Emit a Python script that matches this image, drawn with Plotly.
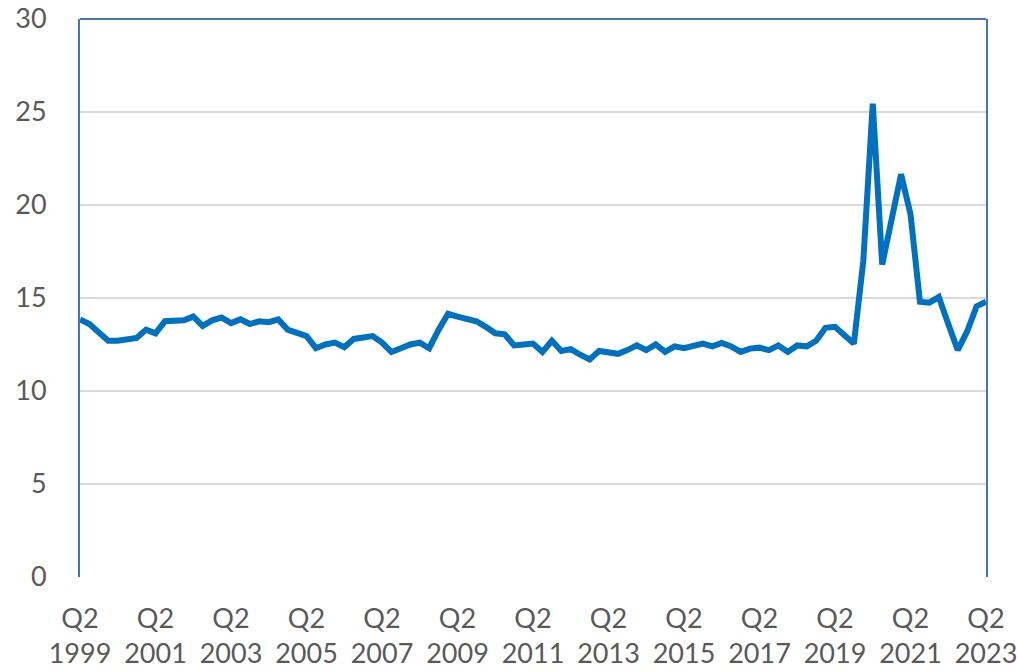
import plotly.graph_objects as go

# Quarterly series, Q2 1999 .. Q2 2023
years = list(range(1999, 2024))
quarters = []
for y in years:
    for q in (1, 2, 3, 4):
        if (y == 1999 and q < 2) or (y == 2023 and q > 2):
            continue
        quarters.append(f"Q{q} {y}")

values = [
    13.85, 13.6, 13.15, 12.7, 12.7, 12.75, 12.85, 13.3, 13.1, 13.75,
    13.75, 13.8, 14.0, 13.5, 13.8, 13.95, 13.65, 13.85, 13.6, 13.75,
    13.7, 13.85, 13.3, 13.15, 12.95, 12.3, 12.5, 12.6, 12.35, 12.8,
    12.9, 12.95, 12.6, 12.1, 12.3, 12.5, 12.6, 12.3, 13.3, 14.15,
    14.0, 13.9, 13.75, 13.45, 13.1, 13.05, 12.45, 12.5, 12.55, 12.1,
    12.7, 12.15, 12.25, 11.95, 11.7, 12.15, 12.05, 12.0, 12.2, 12.45,
    12.2, 12.5, 12.1, 12.4, 12.3, 12.45, 12.55, 12.4, 12.58, 12.4,
    12.1, 12.28, 12.33, 12.2, 12.45, 12.1, 12.45, 12.4, 12.7, 13.4,
    13.45, 13.0, 12.55, 17.0, 25.45, 16.8, 19.2, 21.65, 19.5, 14.8,
    14.75, 15.05, 13.6, 12.2, 13.2, 14.55, 14.8,
]

# Label every second Q2
tick_cats = [c for c in quarters if c.startswith("Q2") and (int(c[3:]) - 1999) % 2 == 0]
tick_text = [c.replace(" ", "<br>") for c in tick_cats]

y_ticks = [0, 5, 10, 15, 20, 25, 30]

FONT = "Lato"
GREY = "#595959"
FRAME = "#4472C4"

fig = go.Figure()
fig.add_trace(go.Scatter(
    x=quarters, y=values, mode="lines",
    line=dict(color="#0070C0", width=6),
    hoverinfo="x+y",
))

fig.update_layout(
    width=1018, height=672,
    margin=dict(l=80, r=32, t=19, b=95),
    paper_bgcolor="white", plot_bgcolor="white",
    showlegend=False,
    font=dict(family=FONT, size=27, color=GREY),
    xaxis=dict(
        type="category", automargin=False,
        categoryorder="array", categoryarray=quarters,
        range=[0, len(quarters) - 1],
        tickmode="array", tickvals=tick_cats, ticktext=tick_text,
        showgrid=False, showline=False, zeroline=False,
        ticks="", ticklabelstandoff=23,
        tickfont=dict(family=FONT, size=27, color=GREY),
    ),
    yaxis=dict(
        range=[0, 30], automargin=False,
        tickmode="array", tickvals=y_ticks,
        showgrid=True, gridcolor="#D9D9D9", gridwidth=1.5,
        zeroline=False,
        showline=True, mirror=True, linecolor=FRAME, linewidth=2,
        ticks="", ticklabelstandoff=26,
        tickfont=dict(family=FONT, size=27, color=GREY),
    ),
    shapes=[
        dict(type="line", xref="paper", yref="paper", x0=0, x1=1, y0=1, y1=1,
             line=dict(color=FRAME, width=2)),
    ],
)

fig.write_html("out.html")
